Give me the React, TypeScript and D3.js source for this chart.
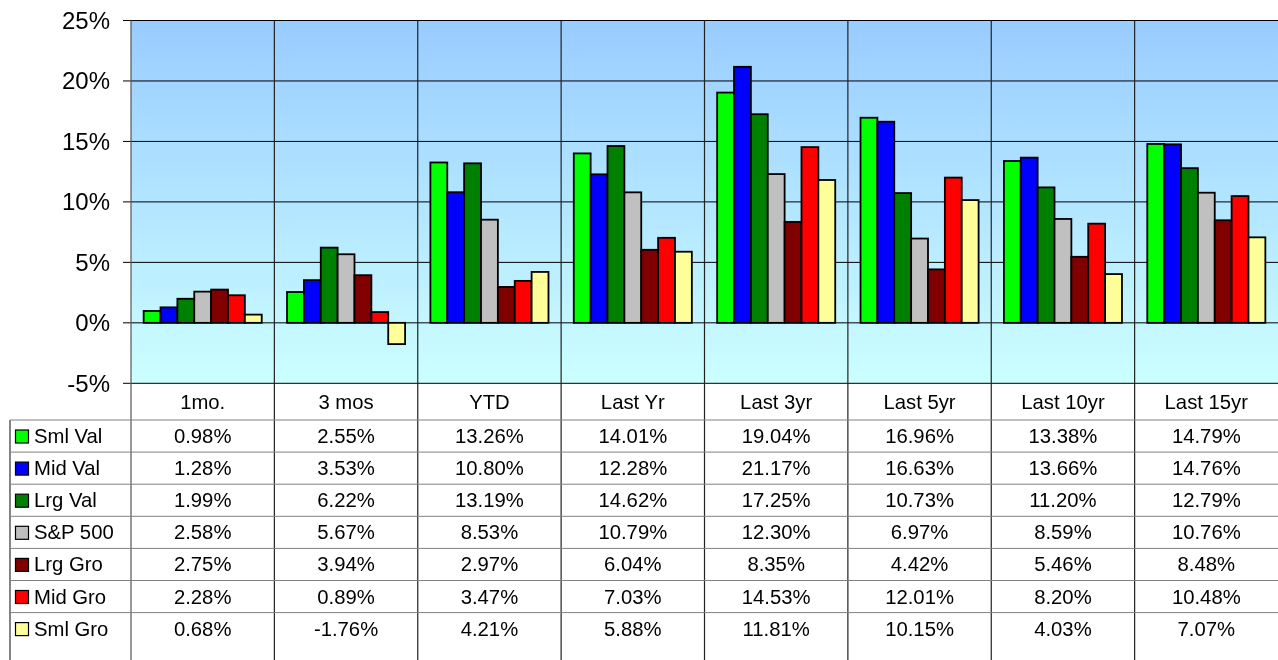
import React from "react";
import * as d3 from "d3";

const categories = ["1mo.", "3 mos", "YTD", "Last Yr", "Last 3yr", "Last 5yr", "Last 10yr", "Last 15yr"];
const seriesNames = ["Sml Val", "Mid Val", "Lrg Val", "S&P 500", "Lrg Gro", "Mid Gro", "Sml Gro"];
const seriesColors = ["#00FF00", "#0000FF", "#008000", "#C0C0C0", "#800000", "#FF0000", "#FFFF99"];
const smlVal = [0.98, 2.55, 13.26, 14.01, 19.04, 16.96, 13.38, 14.79];
const midVal = [1.28, 3.53, 10.8, 12.28, 21.17, 16.63, 13.66, 14.76];
const lrgVal = [1.99, 6.22, 13.19, 14.62, 17.25, 10.73, 11.2, 12.79];
const sp500 = [2.58, 5.67, 8.53, 10.79, 12.3, 6.97, 8.59, 10.76];
const lrgGro = [2.75, 3.94, 2.97, 6.04, 8.35, 4.42, 5.46, 8.48];
const midGro = [2.28, 0.89, 3.47, 7.03, 14.53, 12.01, 8.2, 10.48];
const smlGro = [0.68, -1.76, 4.21, 5.88, 11.81, 10.15, 4.03, 7.07];
const yTicks = [-5, 0, 5, 10, 15, 20, 25];

const series = [smlVal, midVal, lrgVal, sp500, lrgGro, midGro, smlGro];

export default function App() {
  const W = 1278, H = 660;
  const left = 131, right = 1278, top = 20.5, bottom = 383.3;
  const font = "'Liberation Sans', Arial, sans-serif";
  const y = d3.scaleLinear().domain([-5, 25]).range([bottom, top]);
  const x = d3.scaleBand<string>().domain(categories).range([left, right]).paddingInner(0).paddingOuter(0);
  const step = x.step();
  const barW = step / 8.5;
  const xs = d3.scaleBand<number>().domain(d3.range(7)).range([0, barW * 7]);
  const catRowBottom = 420;
  const rowH = 32.1;
  const tableLeft = 10;
  const fmt = (v: number) => v.toFixed(2) + "%";
  const fs = 20.3;

  return (
    <svg width={W} height={H} style={{ position: "fixed", left: 0, top: 0 }} fontFamily={font}>
      <defs>
        <linearGradient id="bg" x1="0" y1="0" x2="0" y2="1">
          <stop offset="0" stopColor="#99CCFF" />
          <stop offset="1" stopColor="#CCFFFF" />
        </linearGradient>
      </defs>
      <rect x={left} y={top} width={right - left} height={bottom - top} fill="url(#bg)" />
      {yTicks.map((t) => (
        <g key={t}>
          <line x1={left - 8} x2={right} y1={y(t)} y2={y(t)} stroke="#000" strokeWidth={1} />
          <text x={110} y={y(t) + 8.5} textAnchor="end" fontSize={24} fill="#000">
            {t + "%"}
          </text>
        </g>
      ))}
      {categories.map((c, i) => (
        <line key={c} x1={x(c)!} x2={x(c)!} y1={top} y2={H} stroke={i === 0 ? "#555" : "#222"} strokeWidth={1.2} />
      ))}
      {categories.map((c, ci) => (
        <g key={c} transform={`translate(${x(c)! + (step - barW * 7) / 2},0)`}>
          {series.map((s, si) => {
            const v = s[ci];
            const y0 = y(0), y1 = y(v);
            return (
              <rect
                key={si}
                x={xs(si)!}
                y={Math.min(y0, y1)}
                width={barW}
                height={Math.abs(y1 - y0)}
                fill={seriesColors[si]}
                stroke="#000"
                strokeWidth={1.8}
              />
            );
          })}
        </g>
      ))}
      {categories.map((c) => (
        <text key={c} x={x(c)! + step / 2} y={409} textAnchor="middle" fontSize={fs} fill="#000">
          {c}
        </text>
      ))}
      <line x1={tableLeft} x2={tableLeft} y1={catRowBottom} y2={H} stroke="#333" strokeWidth={1.2} />
      {seriesNames.map((n, si) => {
        const rt = catRowBottom + si * rowH;
        return (
          <g key={n}>
            <line x1={tableLeft} x2={right} y1={rt} y2={rt} stroke="#808080" strokeWidth={1} />
            <rect x={15.5} y={rt + 10} width={13} height={13} fill={seriesColors[si]} stroke="#000" strokeWidth={1.2} />
            <text x={34} y={rt + 23} fontSize={fs} fill="#000">
              {n}
            </text>
            {categories.map((c, ci) => (
              <text key={c} x={x(c)! + step / 2} y={rt + 23} textAnchor="middle" fontSize={fs} fill="#000">
                {fmt(series[si][ci])}
              </text>
            ))}
          </g>
        );
      })}
    </svg>
  );
}
